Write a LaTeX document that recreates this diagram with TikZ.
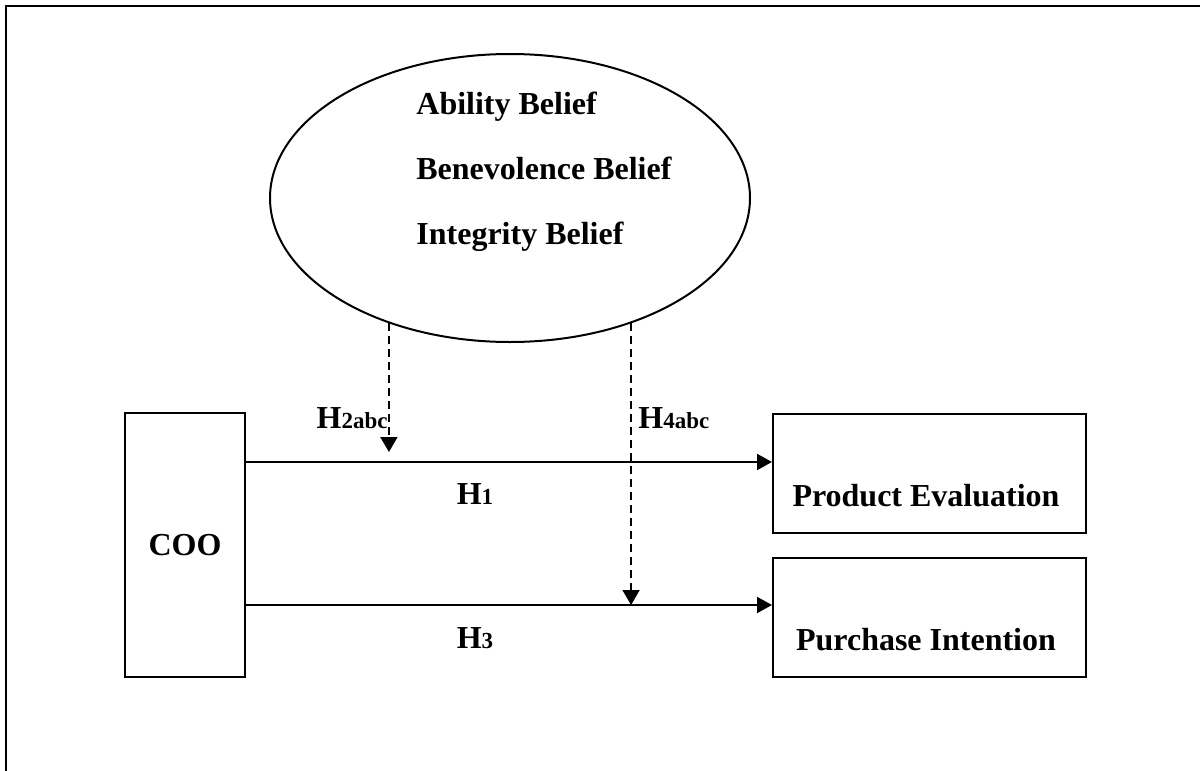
\documentclass[tikz,border=0pt]{standalone}
\usepackage{fontspec}
\setmainfont{Liberation Serif}
\usetikzlibrary{shapes.geometric,arrows.meta,calc}

\newcommand{\smallidx}[1]{{\fontsize{11.5}{13}\selectfont #1}}

\begin{document}
\begin{tikzpicture}[x=0.5pt,y=-0.5pt,
  lbl/.style={font=\fontsize{16}{19}\selectfont\bfseries,inner sep=0pt},
  box/.style={draw,line width=1pt,rectangle,inner sep=0pt},
  flow/.style={line width=1pt,-{Triangle[length=7.5pt,width=8pt]}},
  dflow/.style={line width=0.9pt,dash pattern=on 4pt off 2.5pt,-{Triangle[length=7.5pt,width=8.5pt]}}]
\useasboundingbox (0,0) rectangle (1200,771);
\draw[line width=1.2pt] (6,771) -- (6,6) -- (1200,6);
% trust beliefs
\node[draw,ellipse,line width=1pt,minimum width=240pt,minimum height=144pt,inner sep=0pt] (belief) at (510,198) {};
\node[lbl,anchor=base west] (ability) at (416,114.5) {Ability Belief};
\node[lbl,anchor=base west] (benevolence) at (416,179.5) {Benevolence Belief};
\node[lbl,anchor=base west] (integrity) at (416,244.5) {Integrity Belief};
% boxes
\node[box,minimum width=60pt,minimum height=132pt] (coo) at (185,545) {};
\node[lbl,anchor=base] (cootext) at (185,555.5) {COO};
\node[box,minimum width=156.5pt,minimum height=59.5pt] (pe) at (929.5,473.5) {};
\node[lbl,anchor=base] (petext) at (926,506.5) {Product Evaluation};
\node[box,minimum width=156.5pt,minimum height=59.5pt] (pi) at (929.5,617.5) {};
\node[lbl,anchor=base] (pitext) at (926,650.5) {Purchase Intention};
% direct paths
\coordinate (h1line) at (0,462);
\coordinate (h3line) at (0,605);
\draw[flow] (coo.east |- h1line) -- (pe.west |- h1line);
\draw[flow] (coo.east |- h3line) -- (pi.west |- h3line);
\node[lbl,anchor=base] (h1) at (475,504) {H\smallidx{1}};
\node[lbl,anchor=base] (h3) at (475,648) {H\smallidx{3}};
% moderating paths
\coordinate (h2tip) at (0,452);
\draw[dflow] (belief.226) -- (belief.226 |- h2tip);
\draw[dflow] (belief.314) -- (belief.314 |- h3line);
\node[lbl,anchor=base east] (h2) at (388,428) {H\smallidx{2abc}};
\node[lbl,anchor=base west] (h4) at (638,428) {H\smallidx{4abc}};
\end{tikzpicture}
\end{document}
